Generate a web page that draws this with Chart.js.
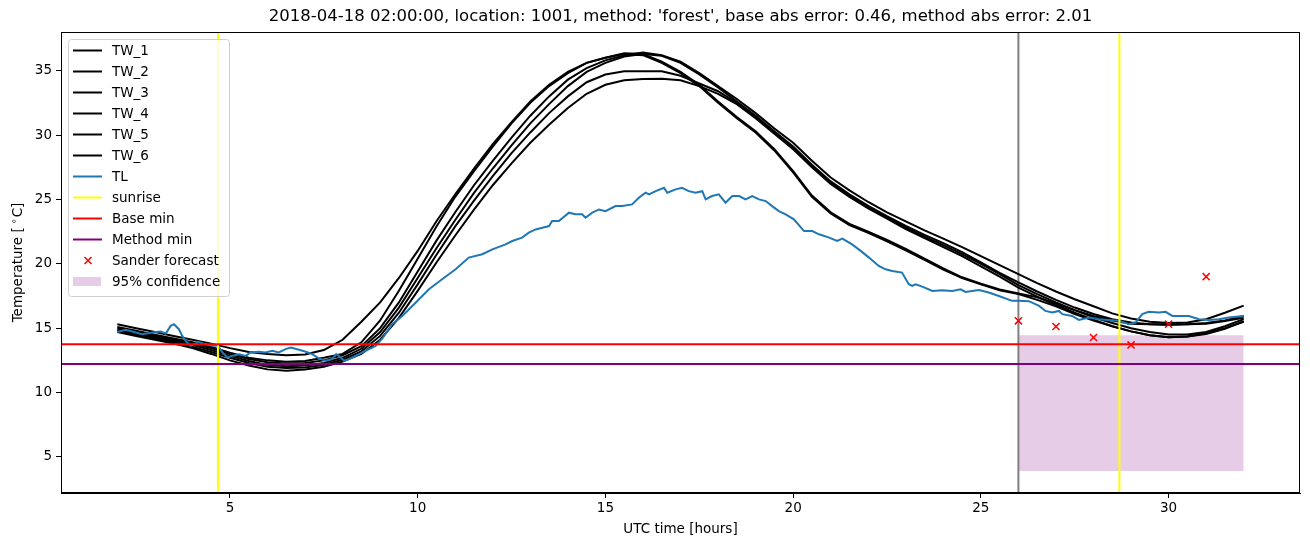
<!DOCTYPE html>
<html lang="en">
<head>
    <meta charset="UTF-8">
    <title>Temperature forecast</title>
    <script src="https://cdn.jsdelivr.net/npm/chart.js"></script>
    <style>
        html, body { margin: 0; padding: 0; background: #fff; }
        #wrap { width: 1310px; height: 547px; }
    </style>
</head>
<body>
<div id="wrap"><canvas id="tempChart" width="1310" height="547"></canvas></div>

<script>
    const chartTitle = "2018-04-18 02:00:00, location: 1001, method: 'forest', base abs error: 0.46, method abs error: 2.01";

    // hourly grid of the TW sensors (UTC hours)
    const twHours = [2, 2.5, 3, 3.5, 4, 4.5, 5, 5.5, 6, 6.5, 7, 7.5, 8, 8.5, 9, 9.5, 10, 10.5, 11, 11.5,
        12, 12.5, 13, 13.5, 14, 14.5, 15, 15.5, 16, 16.5, 17, 17.5, 18, 18.5, 19, 19.5, 20, 20.5, 21, 21.5,
        22, 22.5, 23, 23.5, 24, 24.5, 25, 25.5, 26, 26.5, 27, 27.5, 28, 28.5, 29, 29.5, 30, 30.5, 31, 31.5, 32];

    const tw1 = [15.3, 15.0, 14.7, 14.4, 14.1, 13.8, 13.45, 13.15, 13.0, 12.9, 12.95, 13.3, 14.1, 15.5, 17.0, 18.9, 21.0, 23.3, 25.4, 27.4,
        29.3, 31.0, 32.6, 33.9, 34.9, 35.6, 36.0, 36.35, 36.3, 35.7, 34.9, 33.9, 32.6, 31.4, 30.3, 28.9, 27.2, 25.3, 24.0, 23.1,
        22.5, 21.85, 21.15, 20.4, 19.65, 18.95, 18.45, 18.0, 17.7, 17.4, 16.9, 16.4, 15.95, 15.6, 15.35, 15.3, 15.3, 15.3, 15.35, 15.55, 15.8];
    const tw2 = [15.0, 14.7, 14.4, 14.1, 13.8, 13.45, 13.0, 12.6, 12.35, 12.25, 12.3, 12.5, 12.9, 13.6, 15.0, 17.0, 19.4, 21.8, 24.0, 26.1,
        28.0, 29.8, 31.5, 33.0, 34.3, 35.2, 35.8, 36.2, 36.4, 36.2, 35.7, 34.8, 33.8, 32.8, 31.7, 30.5, 29.4, 28.0, 26.7, 25.7,
        24.8, 24.0, 23.3, 22.6, 21.95, 21.3, 20.6, 19.9, 19.2, 18.5, 17.85, 17.25, 16.7, 16.15, 15.75, 15.5, 15.4, 15.45, 15.7, 16.2, 16.75];
    const tw3 = [15.1, 14.8, 14.5, 14.2, 13.9, 13.55, 13.1, 12.7, 12.5, 12.4, 12.45, 12.7, 13.0, 13.9, 15.6, 17.9, 20.4, 22.9, 25.2, 27.2,
        29.1, 30.9, 32.5, 33.8, 34.8, 35.6, 36.0, 36.3, 36.2, 35.6, 34.8, 33.8, 32.5, 31.3, 30.2, 28.8, 27.1, 25.2, 23.9, 23.0,
        22.4, 21.75, 21.05, 20.3, 19.55, 18.9, 18.4, 17.95, 17.65, 17.2, 16.7, 16.1, 15.6, 15.15, 14.75, 14.45, 14.3, 14.35, 14.55, 14.95, 15.55];
    const tw4 = [14.9, 14.6, 14.3, 14.0, 13.7, 13.3, 12.85, 12.45, 12.15, 12.05, 12.1, 12.3, 12.7, 13.4, 14.7, 16.6, 18.9, 21.2, 23.4, 25.5,
        27.4, 29.2, 30.9, 32.4, 33.8, 34.9, 35.6, 36.1, 36.3, 36.15, 35.6, 34.7, 33.7, 32.6, 31.5, 30.3, 29.1, 27.7, 26.4, 25.4,
        24.5, 23.7, 22.95, 22.25, 21.6, 20.9, 20.1, 19.3, 18.55, 17.85, 17.2, 16.6, 16.1, 15.7, 15.45, 15.3, 15.25, 15.3, 15.4, 15.6, 15.95];
    const tw5 = [14.8, 14.5, 14.2, 13.9, 13.55, 13.15, 12.7, 12.3, 12.0, 11.9, 11.95, 12.15, 12.55, 13.2, 14.4, 16.2, 18.4, 20.7, 22.9, 24.9,
        26.8, 28.6, 30.2, 31.7, 33.0, 34.1, 34.7, 34.95, 34.95, 34.95, 34.6, 34.0, 33.4, 32.5, 31.4, 30.2, 29.0, 27.6, 26.3, 25.3,
        24.4, 23.6, 22.8, 22.1, 21.45, 20.75, 20.0, 19.2, 18.35, 17.65, 17.0, 16.4, 15.85, 15.4, 15.0, 14.7, 14.5, 14.5, 14.7, 15.15, 15.7];
    const tw6 = [14.7, 14.4, 14.1, 13.8, 13.45, 13.0, 12.5, 12.1, 11.8, 11.7, 11.8, 12.0, 12.4, 13.0, 14.1, 15.8, 17.9, 20.1, 22.2, 24.2,
        26.1, 27.8, 29.4, 30.8, 32.1, 33.2, 33.9, 34.25, 34.35, 34.36, 34.25, 33.8, 33.2, 32.4, 31.3, 30.1, 28.9, 27.5, 26.2, 25.2,
        24.3, 23.5, 22.7, 22.0, 21.3, 20.6, 19.8, 19.0, 18.15, 17.45, 16.8, 16.2, 15.65, 15.15, 14.75, 14.45, 14.3, 14.35, 14.6, 15.0, 15.5];

    // air temperature TL (hours, degrees)
    const tlHours = [2.0, 2.22, 2.4, 2.66, 2.93, 3.15, 3.29, 3.42, 3.51, 3.64, 3.73, 3.84, 3.95, 4.17, 4.31, 4.53, 4.68, 4.8, 4.93, 5.06,
        5.24, 5.42, 5.55, 5.77, 5.95, 6.13, 6.3, 6.48, 6.62, 6.84, 7.02, 7.19, 7.37, 7.55, 7.72, 7.83, 7.9, 8.04, 8.17, 8.35,
        8.61, 8.88, 9.06, 9.32, 9.59, 9.95, 10.3, 10.65, 11.01, 11.36, 11.72, 11.99, 12.34, 12.52, 12.78, 12.96, 13.14, 13.32, 13.5, 13.58,
        13.76, 14.03, 14.2, 14.38, 14.47, 14.65, 14.83, 15.0, 15.27, 15.45, 15.71, 15.89, 16.07, 16.16, 16.34, 16.56, 16.65, 16.87, 17.04, 17.22,
        17.4, 17.58, 17.67, 17.84, 18.02, 18.2, 18.38, 18.56, 18.73, 18.91, 19.09, 19.27, 19.44, 19.62, 19.8, 20.02, 20.29, 20.51, 20.69, 20.96,
        21.17, 21.31, 21.57, 21.8, 22.02, 22.28, 22.46, 22.64, 22.9, 23.08, 23.17, 23.26, 23.44, 23.71, 23.97, 24.24, 24.46, 24.59, 24.95, 25.21,
        25.48, 25.83, 26.01, 26.28, 26.55, 26.72, 26.9, 27.08, 27.17, 27.43, 27.61, 27.88, 28.14, 28.41, 28.68, 28.94, 29.12, 29.3, 29.47, 29.74,
        29.92, 30.1, 30.27, 30.54, 30.81, 31.07, 31.34, 31.6, 32.0];
    const tlTemps = [14.7, 14.87, 14.74, 14.53, 14.67, 14.74, 14.59, 15.18, 15.31, 14.92, 14.4, 13.94, 13.63, 13.94, 13.76, 13.63, 13.63, 13.12, 12.73, 12.85,
        12.98, 12.85, 13.12, 13.17, 13.12, 13.24, 13.12, 13.37, 13.5, 13.32, 13.17, 12.98, 12.65, 12.47, 12.6, 12.98, 12.85, 12.47, 12.6, 12.85,
        13.24, 13.63, 14.2, 15.31, 15.95, 16.99, 18.02, 18.8, 19.57, 20.48, 20.74, 21.12, 21.51, 21.77, 22.03, 22.42, 22.67, 22.8, 22.93, 23.32,
        23.32, 23.97, 23.84, 23.84, 23.58, 23.97, 24.22, 24.09, 24.48, 24.48, 24.61, 25.13, 25.52, 25.39, 25.64, 25.9, 25.52, 25.78, 25.9, 25.64,
        25.52, 25.64, 25.0, 25.26, 25.39, 24.74, 25.26, 25.26, 25.0, 25.26, 25.0, 24.87, 24.48, 24.09, 23.84, 23.45, 22.54, 22.54, 22.29, 22.03,
        21.77, 21.95, 21.51, 21.0, 20.48, 19.83, 19.57, 19.44, 19.32, 18.41, 18.28, 18.41, 18.23, 17.89, 17.95, 17.89, 18.02, 17.81, 17.97, 17.77,
        17.5, 17.12, 17.12, 17.1, 16.73, 16.34, 16.22, 16.34, 16.09, 15.95, 15.64, 15.83, 15.7, 15.64, 15.57, 15.31, 15.44, 16.09, 16.27, 16.22,
        16.27, 15.95, 15.95, 15.95, 15.7, 15.64, 15.7, 15.83, 15.95];

    const sunriseHours = [4.68, 28.69];
    const forecastStart = 26;
    const baseMin = 13.76;
    const methodMin = 12.21;

    const sanderHours = [26, 27, 28, 29, 30, 31];
    const sanderTemps = [15.57, 15.13, 14.28, 13.7, 15.31, 19.0];

    const confHours = [26, 32];
    const confLow = 3.9;
    const confHigh = 14.45;

    const xTicks = [5, 10, 15, 20, 25, 30];
    const yTicks = [5, 10, 15, 20, 25, 30, 35];
    const X_MIN = 0.5, X_MAX = 33.5;
    const Y_MIN = 2.2, Y_MAX = 38.0;

    const FONT = "'DejaVu Sans', sans-serif";

    function pairs(xs, ys) {
        return xs.map((x, i) => ({ x: x, y: ys[i] }));
    }
    function vline(x) {
        return [{ x: x, y: Y_MIN }, { x: x, y: Y_MAX }];
    }
    function hline(y) {
        return [{ x: X_MIN, y: y }, { x: X_MAX, y: y }];
    }

    const lineBase = { pointRadius: 0, borderWidth: 2, tension: 0, fill: false };

    const twSeries = [tw1, tw2, tw3, tw4, tw5, tw6];
    const datasets = [];

    // order: lower number is drawn on top
    twSeries.forEach((vals, i) => {
        datasets.push(Object.assign({}, lineBase, {
            label: 'TW_' + (i + 1), data: pairs(twHours, vals),
            borderColor: '#000000', order: 10
        }));
    });
    datasets.push(Object.assign({}, lineBase, {
        label: 'TL', data: pairs(tlHours, tlTemps), borderColor: '#1f77b4', order: 9
    }));
    sunriseHours.forEach(h => {
        datasets.push(Object.assign({}, lineBase, {
            label: 'sunrise', data: vline(h), borderColor: '#ffff00', order: 8
        }));
    });
    datasets.push(Object.assign({}, lineBase, {
        label: 'Base min', data: hline(baseMin), borderColor: '#ff0000', order: 7
    }));
    datasets.push(Object.assign({}, lineBase, {
        label: 'Method min', data: hline(methodMin), borderColor: '#800080', order: 6
    }));
    datasets.push(Object.assign({}, lineBase, {
        label: 'forecast start', data: vline(forecastStart), borderColor: '#808080', order: 12
    }));
    datasets.push({
        label: 'Sander forecast', data: pairs(sanderHours, sanderTemps), showLine: false,
        pointStyle: 'crossRot', pointRadius: 5, borderWidth: 1.5,
        borderColor: '#ff0000', backgroundColor: '#ff0000', order: 1
    });
    datasets.push({
        label: 'conf low', data: confHours.map(h => ({ x: h, y: confLow })),
        pointRadius: 0, borderWidth: 0, borderColor: 'rgba(0,0,0,0)', fill: false, order: 20
    });
    datasets.push({
        label: '95% confidence', data: confHours.map(h => ({ x: h, y: confHigh })),
        pointRadius: 0, borderWidth: 0, borderColor: 'rgba(0,0,0,0)',
        backgroundColor: 'rgba(128,0,128,0.2)', fill: '-1', order: 19
    });

    const legendItems = [
        { text: 'TW_1', kind: 'line', color: '#000000' },
        { text: 'TW_2', kind: 'line', color: '#000000' },
        { text: 'TW_3', kind: 'line', color: '#000000' },
        { text: 'TW_4', kind: 'line', color: '#000000' },
        { text: 'TW_5', kind: 'line', color: '#000000' },
        { text: 'TW_6', kind: 'line', color: '#000000' },
        { text: 'TL', kind: 'line', color: '#1f77b4' },
        { text: 'sunrise', kind: 'line', color: '#ffff00' },
        { text: 'Base min', kind: 'line', color: '#ff0000' },
        { text: 'Method min', kind: 'line', color: '#800080' },
        { text: 'Sander forecast', kind: 'cross', color: '#ff0000' },
        { text: '95% confidence', kind: 'patch', color: 'rgba(128,0,128,0.2)' }
    ];

    function drawYLabel(ctx, cx, cy) {
        // "Temperature [ °C]" with a raised small ring, like mathtext
        const big = '13.5px ' + FONT, small = '9.5px ' + FONT;
        ctx.font = big;
        const p1 = 'Temperature [', p3 = 'C]';
        const w1 = ctx.measureText(p1).width, w3 = ctx.measureText(p3).width;
        ctx.font = small;
        const w2 = ctx.measureText('\u2218').width;
        const gap = 3;
        const total = w1 + gap + w2 + 1 + w3;
        ctx.save();
        ctx.translate(cx, cy);
        ctx.rotate(-Math.PI / 2);
        ctx.textAlign = 'left';
        ctx.textBaseline = 'alphabetic';
        let x = -total / 2;
        ctx.font = big;
        ctx.fillText(p1, x, 5);
        x += w1 + gap;
        ctx.font = small;
        ctx.fillText('\u2218', x, 0);
        x += w2 + 1;
        ctx.font = big;
        ctx.fillText(p3, x, 5);
        ctx.restore();
    }

    const decorations = {
        id: 'decorations',
        afterDraw(chart) {
            const ctx = chart.ctx;
            const a = chart.chartArea;
            ctx.save();

            // frame
            ctx.strokeStyle = '#000';
            ctx.lineWidth = 1;
            ctx.strokeRect(a.left + 0.5, a.top + 0.5, a.right - a.left - 1, a.bottom - a.top - 1);

            // titles
            ctx.fillStyle = '#000';
            ctx.textAlign = 'center';
            ctx.textBaseline = 'middle';
            ctx.font = '16.5px ' + FONT;
            ctx.fillText(chartTitle, (a.left + a.right) / 2, 17);
            ctx.font = '13.5px ' + FONT;
            ctx.fillText('UTC time [hours]', (a.left + a.right) / 2, 529);
            drawYLabel(ctx, 17, (a.top + a.bottom) / 2);

            // legend
            const bx = 68, by = 39, bw = 161, bh = 257;
            ctx.beginPath();
            ctx.roundRect(bx + 0.5, by + 0.5, bw, bh, 3);
            ctx.fillStyle = 'rgba(255,255,255,0.8)';
            ctx.fill();
            ctx.strokeStyle = '#d0d0d0';
            ctx.lineWidth = 1;
            ctx.stroke();

            ctx.textAlign = 'left';
            ctx.textBaseline = 'middle';
            ctx.font = '13.5px ' + FONT;
            legendItems.forEach((it, i) => {
                const cy = 50.5 + i * 21;
                if (it.kind === 'line') {
                    ctx.strokeStyle = it.color;
                    ctx.lineWidth = 2;
                    ctx.beginPath();
                    ctx.moveTo(73, cy);
                    ctx.lineTo(102, cy);
                    ctx.stroke();
                } else if (it.kind === 'cross') {
                    ctx.strokeStyle = it.color;
                    ctx.lineWidth = 1.5;
                    ctx.beginPath();
                    ctx.moveTo(84.5, cy - 3.5); ctx.lineTo(91.5, cy + 3.5);
                    ctx.moveTo(91.5, cy - 3.5); ctx.lineTo(84.5, cy + 3.5);
                    ctx.stroke();
                } else {
                    ctx.fillStyle = it.color;
                    ctx.fillRect(73, cy - 4.5, 28, 9);
                }
                ctx.fillStyle = '#000';
                ctx.fillText(it.text, 112, cy + 1);
            });
            ctx.restore();
        }
    };

    new Chart(document.getElementById('tempChart').getContext('2d'), {
        type: 'line',
        data: { datasets },
        options: {
            responsive: false,
            animation: false,
            events: [],
            layout: { padding: { top: 32, right: 10, left: 0, bottom: 0 } },
            plugins: {
                legend: { display: false },
                tooltip: { enabled: false },
                title: { display: false }
            },
            scales: {
                x: {
                    type: 'linear', min: X_MIN, max: X_MAX,
                    afterFit: s => { s.height = 54; },
                    afterBuildTicks: s => { s.ticks = xTicks.map(v => ({ value: v })); },
                    grid: { drawOnChartArea: false, drawTicks: true, tickLength: 5, color: '#000' },
                    border: { display: true, color: '#000', width: 1 },
                    ticks: { color: '#000', font: { family: FONT, size: 13.5 }, padding: 2, maxRotation: 0 }
                },
                y: {
                    type: 'linear', min: Y_MIN, max: Y_MAX,
                    afterFit: s => { s.width = 61; },
                    afterBuildTicks: s => { s.ticks = yTicks.map(v => ({ value: v })); },
                    grid: { drawOnChartArea: false, drawTicks: true, tickLength: 5, color: '#000' },
                    border: { display: true, color: '#000', width: 1 },
                    ticks: { color: '#000', font: { family: FONT, size: 13.5 }, padding: 4 }
                }
            }
        },
        plugins: [decorations]
    });
</script>
</body>
</html>
